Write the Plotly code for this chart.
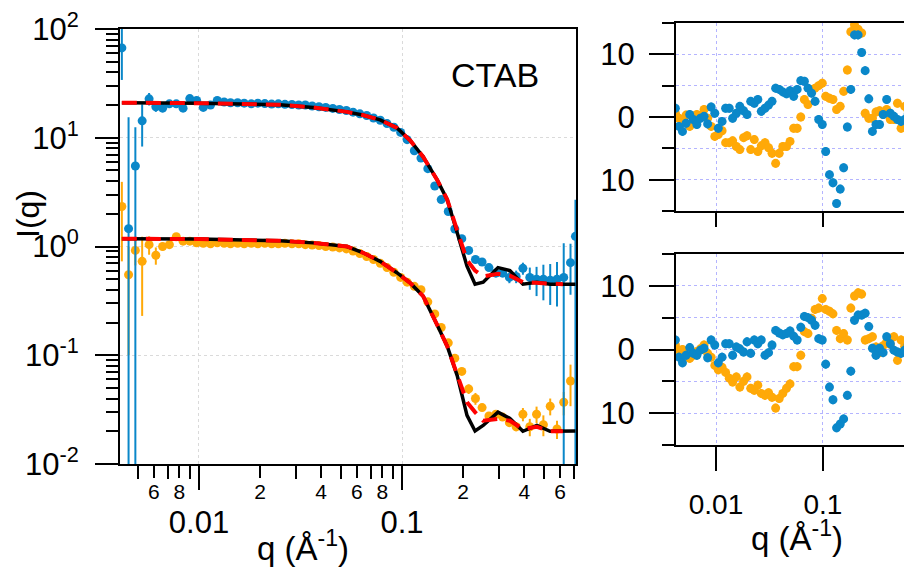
import plotly.graph_objects as go

# q values (1/Å) shared by the data and residual panels
q = [0.00417, 0.00450, 0.00486, 0.00525, 0.00568, 0.00613, 0.00662, 0.00715, 0.00773, 0.00835,
     0.00901, 0.00974, 0.0105, 0.0114, 0.0123, 0.0133, 0.0143, 0.0155, 0.0167, 0.0181,
     0.0195, 0.0211, 0.0228, 0.0246, 0.0265, 0.0287, 0.0310, 0.0334, 0.0361, 0.0390,
     0.0421, 0.0456, 0.0492, 0.0532, 0.0574, 0.0620, 0.0670, 0.0724, 0.0782, 0.0844,
     0.0912, 0.0985, 0.106, 0.115, 0.124, 0.134, 0.145, 0.156, 0.169, 0.182,
     0.197, 0.213, 0.230, 0.248, 0.268, 0.290, 0.313, 0.338, 0.365, 0.394,
     0.426, 0.460, 0.497, 0.537, 0.580, 0.626, 0.676, 0.715]

# upper data set (blue), scaled
I_blue = [67, 1.46, 5.5, 14.3, 22.8, 19.3, 18.7, 20.5, 20.5, 18.7,
          22.9, 22.0, 19.0, 20.0, 22.0, 21.3, 21.0, 21.0, 20.8, 20.5,
          20.8, 20.6, 20.4, 20.5, 20.3, 20.2, 20.0, 20.0, 19.6, 19.3,
          19.0, 18.6, 18.2, 17.8, 17.2, 16.6, 16.0, 15.2, 14.5, 13.5,
          12.5, 11.2, 9.6, 7.6, 6.5, 5.2, 3.6, 2.7, 2.1, 1.45,
          1.18, 0.92, 0.76, 0.72, 0.64, 0.57, 0.57, 0.52, 0.53, 0.63,
          0.52, 0.50, 0.50, 0.49, 0.50, 0.52, 0.71, 1.24]
err_blue = [33, 14, 7, 6, 3, 2, 1.5, 0.6, 0.6, 0.6,
            0.6, 0.6, 0.6, 0.6, 0.6, 0.6, 0.6, 0.6, 0.6, 0.6,
            0.6, 0.6, 0.6, 0.6, 0.6, 0.6, 0.6, 0.6, 0.6, 0.6,
            0.6, 0.6, 0.6, 0.6, 0.6, 0.6, 0.6, 0.6, 0.6, 0.6,
            0.6, 0.3, 0.3, 0.3, 0.3, 0.3, 0.08, 0.08, 0.08, 0.08,
            0.08, 0.04, 0.04, 0.04, 0.04, 0.05, 0.05, 0.06, 0.07, 0.08,
            0.12, 0.15, 0.18, 0.2, 0.22, 0.55, 0.35, 1.45]

# lower data set (orange)
I_orange = [2.33, 0.55, 0.92, 0.73, 1.04, 0.83, 1.0, 1.04, 1.23, 1.12,
            1.12, 1.08, 1.07, 1.06, 1.08, 1.07, 1.06, 1.07, 1.06, 1.07,
            1.06, 1.07, 1.06, 1.06, 1.07, 1.06, 1.06, 1.04, 1.03, 1.02,
            1.0, 0.99, 0.97, 0.95, 0.91, 0.86, 0.81, 0.76, 0.70, 0.64,
            0.58, 0.52, 0.47, 0.43, 0.40, 0.31, 0.24, 0.18, 0.13, 0.094,
            0.071, 0.049, 0.040, 0.033, 0.0276, 0.0287, 0.027, 0.024, 0.022, 0.0287,
            0.022, 0.0287, 0.023, 0.034, 0.021, 0.037, 0.058, None]
err_orange = [1.6, 0.45, 0.25, 0.5, 0.2, 0.15, 0.08, 0.02, 0.02, 0.02,
              0.02, 0.02, 0.02, 0.02, 0.02, 0.02, 0.02, 0.02, 0.02, 0.02,
              0.02, 0.02, 0.02, 0.02, 0.02, 0.02, 0.02, 0.02, 0.02, 0.02,
              0.02, 0.02, 0.02, 0.02, 0.02, 0.02, 0.02, 0.02, 0.02, 0.02,
              0.02, 0.02, 0.02, 0.02, 0.02, 0.005, 0.005, 0.005, 0.005, 0.005,
              0.005, 0.005, 0.005, 0.002, 0.002, 0.002, 0.002, 0.002, 0.002, 0.004,
              0.004, 0.005, 0.005, 0.006, 0.004, 0.009, 0.024, 0]

# model curves
q_fit = [0.00417, 0.01, 0.025, 0.0365, 0.0536, 0.064, 0.078, 0.094, 0.11, 0.127, 0.149,
         0.167, 0.187, 0.209, 0.229, 0.251, 0.297, 0.34, 0.394, 0.462, 0.536, 0.62, 0.715]
black_up = [21.0, 20.8, 20.1, 19.0, 17.3, 16.2, 14.6, 12.4, 9.4, 6.7, 4.1,
            2.7, 1.34, 0.66, 0.45, 0.47, 0.64, 0.60, 0.45, 0.47, 0.45, 0.45, 0.45]
red_up = [21.0, 20.8, 20.1, 19.0, 17.3, 16.2, 14.6, 12.4, 9.4, 6.7, 4.1,
          2.7, 1.40, 0.75, 0.60, 0.53, 0.56, 0.54, 0.47, 0.46, 0.45, 0.45, None]
black_lo = [1.18, 1.17, 1.13, 1.08, 1.0, 0.88, 0.73, 0.577, 0.46, 0.35, 0.19,
            0.121, 0.065, 0.028, 0.0201, 0.0226, 0.030, 0.0263, 0.020, 0.0226, 0.020, 0.0201, 0.0201]
red_lo = [1.18, 1.17, 1.13, 1.08, 1.0, 0.88, 0.73, 0.577, 0.46, 0.35, 0.19,
          0.121, 0.066, 0.037, 0.030, 0.025, 0.026, 0.025, 0.021, 0.022, 0.020, 0.020, None]

# residuals, top panel
res1_blue = [1.4, -1.5, -2.3, -1.0, 0.4, -0.4, -1.2, -0.2, 0.1, -1.1,
             1.6, 0.6, -1.8, -0.7, 1.4, 1.4, -0.2, 0.6, 1.7, 1.0,
             0.4, 2.5, 2.2, 2.8, 0.9, 1.4, 1.9, 2.5, 4.6, 4.4,
             4.0, 3.7, 4.2, 3.3, 4.4, 5.8, 5.7, 4.6, 3.8, 2.5,
             -0.4, -1.2, -5.5, -9.2, -10.5, -13.8, -11.5, -8.1, -1.6, 4.4,
             13.1, 13.1, 10.3, 7.4, 2.9, -2.3, -1.2, -1.2, 0.4, 2.8,
             0.6, 0.1, -0.4, -0.7, -0.4, 0.4, 0.6, 0.3]
res1_orange = [0.6, -0.2, -0.6, 0.3, -1.5, -0.9, 0.4, 0.2, 1.2, -0.2,
               -1.5, -3.1, -2.8, -2.2, -4.1, -4.1, -3.8, -4.7, -5.2, -3.3,
               -3.0, -5.2, -3.6, -5.5, -4.6, -4.1, -4.9, -5.8, -7.4, -5.8,
               -4.7, -4.7, -3.9, -1.8, -1.8, 0.0, 2.8, 2.0, 4.4, 4.6,
               5.0, 5.4, 3.3, 3.0, 2.8, 1.2, 1.7, 4.1, 7.5, 13.6,
               14.7, 14.0, 13.4, 0.6, -0.2, -0.2, 0.8, 1.0, 0.4, 1.2,
               -0.4, -0.4, 2.2, -1.8, 1.7, 1.0, 0.5, 0.0]

# residuals, bottom panel
res2_blue = [1.5, -1.2, -2.1, -0.9, 0.3, -0.6, -0.9, -0.1, 0.2, -1.3,
             1.5, 0.7, -2.1, -1.2, 0.9, 0.9, -0.9, 0.4, 0.1, -0.4,
             1.2, -0.6, 1.5, 0.9, 1.5, -0.9, -0.5, 0.7, 3.0, 2.6,
             2.3, 2.5, 2.9, 2.1, 1.5, 3.5, 5.2, 5.0, 4.6, 3.8,
             1.7, 1.5, -2.3, -5.9, -7.9, -12.3, -11.7, -10.9, -7.2, -3.4,
             4.6, 5.4, 5.4, 5.7, 3.6, 0.2, -0.9, 0.2, -0.5, 2.0,
             0.9, -0.1, -0.4, -0.6, -0.1, 0.7, 0.9, 0.5]
res2_orange = [0.7, -0.1, 0.0, -0.8, -1.4, -0.9, -0.3, 0.1, 0.7, -0.6,
               -1.2, -2.5, -3.2, -2.8, -3.6, -4.5, -5.1, -4.3, -5.9, -5.0,
               -4.3, -6.1, -6.4, -5.6, -6.9, -7.2, -6.8, -7.5, -9.2, -7.7,
               -6.9, -6.1, -5.4, -2.7, -2.7, -0.9, 2.8, 2.5, 4.9, 6.3,
               6.5, 8.0, 6.3, 6.0, 5.6, 3.0, 1.7, 2.5, 1.5, 6.5,
               8.4, 8.9, 8.7, 1.5, 1.7, 2.0, 0.4, -0.5, 0.6, 1.2,
               0.8, 2.0, -1.7, 1.5, 0.5, 0.8, 0.3, 0.0]

# tick labels
x_major = [0.01, 0.1]
x_major_text = ["0.01", "0.1"]
x_minor_lab = [0.006, 0.008, 0.02, 0.04, 0.06, 0.08, 0.2, 0.4, 0.6]
x_minor_text = ["6", "8", "2", "4", "6", "8", "2", "4", "6"]
x_minor_other = [0.005, 0.007, 0.009, 0.03, 0.05, 0.07, 0.09, 0.3, 0.5, 0.7]
y_major = [0.01, 0.1, 1, 10, 100]
y_major_text = ["10<sup>-2</sup>", "10<sup>-1</sup>", "10<sup>0</sup>", "10<sup>1</sup>", "10<sup>2</sup>"]
y_minor = [m * d for d in [0.01, 0.1, 1, 10] for m in range(2, 10)]
r_major = [-10, 0, 10]
r_major_text = ["10", "0", "10"]
r_minor = [-15, -5, 5, 15]

BLUE = "#0a87c9"
ORANGE = "#ffa908"
FONT = "Liberation Sans, Arial, sans-serif"

# the page puts the plot 8px in from the top-left corner
W, H, OFF = 912, 569, 8


def px(p):
    return (p - OFF) / W


def py(p):
    return 1 - (p - OFF) / H


fig = go.Figure()

# left panel
for y, e, c in [(I_orange, err_orange, ORANGE), (I_blue, err_blue, BLUE)]:
    fig.add_trace(go.Scatter(x=q, y=y, mode="markers", xaxis="x", yaxis="y",
                             marker=dict(color=c, size=9),
                             error_y=dict(type="data", array=e, color=c, thickness=2, width=0)))
for y in [black_up, black_lo]:
    fig.add_trace(go.Scatter(x=q_fit, y=y, mode="lines", xaxis="x", yaxis="y",
                             line=dict(color="black", width=3.5)))
for y in [red_up, red_lo]:
    fig.add_trace(go.Scatter(x=q_fit, y=y, mode="lines", xaxis="x", yaxis="y",
                             line=dict(color="#ff0000", width=4, dash="15px,9px")))

# residual panels
for xa, ya, rb, ro in [("x2", "y2", res1_blue, res1_orange), ("x3", "y3", res2_blue, res2_orange)]:
    for r, c in [(ro, ORANGE), (rb, BLUE)]:
        fig.add_trace(go.Scatter(x=q, y=r, mode="markers", xaxis=xa, yaxis=ya,
                                 marker=dict(color=c, size=9),
                                 error_y=dict(type="constant", value=0.7, color=c, thickness=2, width=0)))

# dummy empty trace so the overlay axis with the small labels is drawn
fig.add_trace(go.Scatter(x=[None], y=[None], xaxis="x4", yaxis="y", mode="markers",
                         hoverinfo="skip"))

frame = dict(showline=True, linewidth=2, linecolor="black", zeroline=False, automargin=False,
             ticks="outside", tickwidth=2, tickcolor="black", ticklabeloverflow="allow")

xr_left = [-2.389, -0.143]
xr_right = [-2.374, -0.093]

fig.update_layout(
    width=W, height=H,
    margin=dict(l=0, r=0, t=0, b=0, autoexpand=False),
    paper_bgcolor="white", plot_bgcolor="white",
    showlegend=False,
    font=dict(family=FONT, color="black", size=30),
    xaxis=dict(**frame, domain=[px(120), px(576)], anchor="y", type="log", range=xr_left,
               tickmode="array", tickvals=x_major, ticktext=x_major_text, ticklen=24,
               tickfont=dict(size=31), ticklabelstandoff=6, mirror=True, layer="below traces",
               showgrid=True, gridcolor="#dadada", gridwidth=1, griddash="3px,3px",
               minor=dict(tickmode="array", tickvals=x_minor_other, ticks="outside", ticklen=13,
                          tickwidth=2, tickcolor="black", showgrid=False)),
    xaxis4=dict(overlaying="x", anchor="y", type="log", range=xr_left, side="bottom",
                tickmode="array", tickvals=x_minor_lab, ticktext=x_minor_text, automargin=False,
                ticks="outside", ticklen=13, tickwidth=2, tickcolor="black", ticklabelstandoff=-4,
                tickfont=dict(size=21), showgrid=False, showline=False, zeroline=False),
    yaxis=dict(**frame, domain=[py(464), py(29)], anchor="x", type="log", range=[-2, 2],
               tickmode="array", tickvals=y_major, ticktext=y_major_text, ticklen=23,
               tickfont=dict(size=31), ticklabelstandoff=10, mirror=True, layer="below traces",
               showgrid=True, gridcolor="#dadada", gridwidth=1, griddash="3px,3px",
               minor=dict(tickmode="array", tickvals=y_minor, ticks="outside", ticklen=12,
                          tickwidth=2, tickcolor="black", showgrid=False)),
    xaxis2=dict(**frame, domain=[px(676), 1.0], anchor="y2", type="log", range=xr_right,
                tickmode="array", tickvals=x_major, ticklen=14, showticklabels=False, mirror=True,
                showgrid=True, gridcolor="#b4b4ff", gridwidth=1, griddash="dot"),
    yaxis2=dict(**frame, domain=[py(211), py(23)], anchor="x2", range=[-15, 15],
                tickmode="array", tickvals=r_major, ticktext=r_major_text, ticklen=25,
                tickfont=dict(size=31), ticklabelstandoff=8,
                showgrid=True, gridcolor="#b4b4ff", gridwidth=1, griddash="dot",
                minor=dict(tickmode="array", tickvals=r_minor, ticks="outside", ticklen=12,
                           tickwidth=2, tickcolor="black", showgrid=True,
                           gridcolor="#b4b4ff", gridwidth=1, griddash="dot")),
    xaxis3=dict(**frame, domain=[px(676), 1.0], anchor="y3", type="log", range=xr_right,
                tickmode="array", tickvals=x_major, ticktext=x_major_text, ticklen=24,
                tickfont=dict(size=28), ticklabelstandoff=9, mirror=True,
                showgrid=True, gridcolor="#b4b4ff", gridwidth=1, griddash="dot"),
    yaxis3=dict(**frame, domain=[py(445), py(254)], anchor="x3", range=[-15, 15],
                tickmode="array", tickvals=r_major, ticktext=r_major_text, ticklen=25,
                tickfont=dict(size=31), ticklabelstandoff=8,
                showgrid=True, gridcolor="#b4b4ff", gridwidth=1, griddash="dot",
                minor=dict(tickmode="array", tickvals=r_minor, ticks="outside", ticklen=12,
                           tickwidth=2, tickcolor="black", showgrid=True,
                           gridcolor="#b4b4ff", gridwidth=1, griddash="dot")),
)

fig.add_annotation(text="CTAB", x=px(495), y=py(75), xref="paper", yref="paper",
                   showarrow=False, font=dict(size=34), xanchor="center", yanchor="middle")
fig.add_annotation(text="I(q)", x=px(28), y=py(214), xref="paper", yref="paper",
                   showarrow=False, font=dict(size=32), textangle=-90,
                   xanchor="center", yanchor="middle")
fig.add_annotation(text="q (Å<sup>-1</sup>)", x=px(303), y=py(546), xref="paper",
                   yref="paper", showarrow=False, font=dict(size=33),
                   xanchor="center", yanchor="middle")
fig.add_annotation(text="q (Å<sup>-1</sup>)", x=px(797), y=py(536), xref="paper",
                   yref="paper", showarrow=False, font=dict(size=33),
                   xanchor="center", yanchor="middle")

fig.write_html("out.html")
